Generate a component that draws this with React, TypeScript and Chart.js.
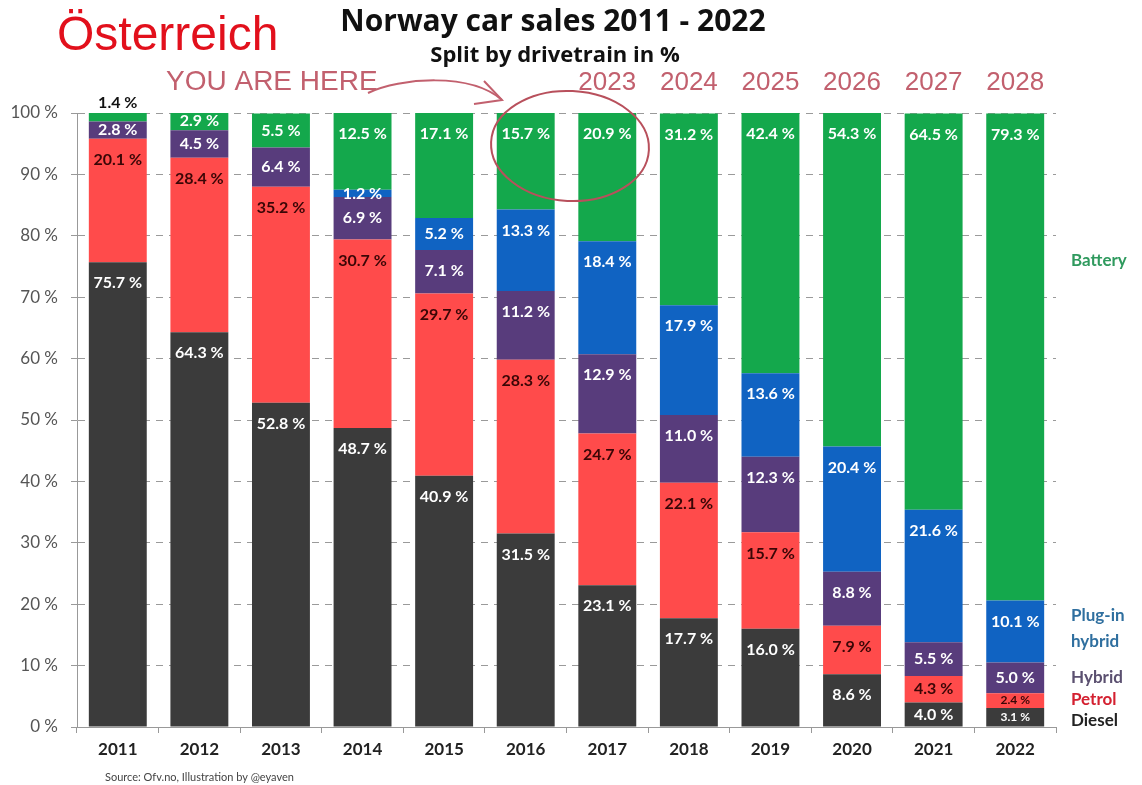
import React, { useEffect, useRef } from "react";
import { Chart, registerables } from "chart.js";

Chart.register(...registerables);

const years = ["2011", "2012", "2013", "2014", "2015", "2016", "2017", "2018", "2019", "2020", "2021", "2022"];
const futureYears = ["2023", "2024", "2025", "2026", "2027", "2028"];
const diesel = [75.7, 64.3, 52.8, 48.7, 40.9, 31.5, 23.1, 17.7, 16.0, 8.6, 4.0, 3.1];
const petrol = [20.1, 28.4, 35.2, 30.7, 29.7, 28.3, 24.7, 22.1, 15.7, 7.9, 4.3, 2.4];
const hybrid = [2.8, 4.5, 6.4, 6.9, 7.1, 11.2, 12.9, 11.0, 12.3, 8.8, 5.5, 5.0];
const plugin = [0, 0, 0, 1.2, 5.2, 13.3, 18.4, 17.9, 13.6, 20.4, 21.6, 10.1];
const battery = [1.4, 2.9, 5.5, 12.5, 17.1, 15.7, 20.9, 31.2, 42.4, 54.3, 64.5, 79.3];
const yTicks = [0, 10, 20, 30, 40, 50, 60, 70, 80, 90, 100];

const seriesNames = ["Diesel", "Petrol", "Hybrid", "Plug-in hybrid", "Battery"];
const seriesColors = ["#3b3b3b", "#ff4b4b", "#583c7c", "#1063c2", "#14a84c"];
const labelColors = ["#ffffff", "#3a0606", "#ffffff", "#ffffff", "#ffffff"];

// right-side legend texts, anchored at a value on the y scale
const legendTexts = [
  { text: "Battery", at: 76, color: "#2f9a5e" },
  { text: "Plug-in", at: 18.1, color: "#2f6f9f" },
  { text: "hybrid", at: 14.0, color: "#2f6f9f" },
  { text: "Hybrid", at: 8.1, color: "#5b5070" },
  { text: "Petrol", at: 4.4, color: "#d42030" },
  { text: "Diesel", at: 1.1, color: "#222222" },
];

const FONT = "Lato, 'Open Sans', sans-serif";
const PINK = "#c2606e";

const overlayPlugin = {
  id: "overlay",
  afterDatasetsDraw(chart: any) {
    const ctx = chart.ctx;
    const n = chart.data.datasets.length;
    const lastIdx = chart.data.labels.length - 1;
    ctx.save();
    ctx.textAlign = "center";
    ctx.textBaseline = "middle";
    for (let d = 0; d < n; d++) {
      const meta = chart.getDatasetMeta(d);
      const data = chart.data.datasets[d].data;
      meta.data.forEach((bar: any, i: number) => {
        const v = data[i];
        if (!v) return;
        const top = Math.min(bar.y, bar.base);
        const h = Math.abs(bar.base - bar.y);
        const txt = v.toFixed(1) + " %";
        let y: number;
        let color = labelColors[d];
        let size = 16;
        if (h < 12 && d === n - 1) {
          y = top - 10;
          color = "#111";
        } else if (h >= 40) {
          y = top + 21;
        } else {
          y = top + h / 2;
        }
        if (h < 21 && i === lastIdx) size = 12;
        ctx.font = `bold ${size}px ${FONT}`;
        ctx.fillStyle = color;
        ctx.fillText(txt, bar.x, y);
      });
    }
    ctx.restore();
  },
  afterDraw(chart: any) {
    const ctx = chart.ctx;
    const yScale = chart.scales.y;
    const xScale = chart.scales.x;
    ctx.save();
    // Title + subtitle
    ctx.textAlign = "center";
    ctx.textBaseline = "middle";
    ctx.fillStyle = "#111";
    ctx.font = `bold 30px 'Open Sans', sans-serif`;
    ctx.fillText("Norway car sales 2011 - 2022", 553, 22);
    ctx.font = `bold 22px 'Open Sans', sans-serif`;
    ctx.fillText("Split by drivetrain in %", 555, 56);

    // Österreich
    ctx.textAlign = "left";
    ctx.textBaseline = "alphabetic";
    ctx.fillStyle = "#e2101c";
    ctx.font = `48px 'Liberation Sans', Arial, sans-serif`;
    ctx.fillText("Österreich", 57, 50);

    // YOU ARE HERE
    ctx.fillStyle = PINK;
    ctx.font = `28px 'Liberation Sans', Arial, sans-serif`;
    ctx.fillText("YOU ARE HERE", 166, 90);

    // future years over last bars
    ctx.textAlign = "center";
    ctx.font = `26px 'Liberation Sans', Arial, sans-serif`;
    futureYears.forEach((fy, k) => {
      const idx = years.length - futureYears.length + k;
      ctx.fillText(fy, xScale.getPixelForValue(idx), 90);
    });

    // arrow
    ctx.strokeStyle = PINK;
    ctx.lineWidth = 2;
    ctx.beginPath();
    ctx.moveTo(368, 93);
    ctx.bezierCurveTo(400, 78, 470, 72, 502, 100);
    ctx.stroke();
    ctx.beginPath();
    ctx.moveTo(484, 81);
    ctx.lineTo(502, 100);
    ctx.lineTo(474, 104);
    ctx.stroke();

    // ellipse
    ctx.strokeStyle = "#b8505c";
    ctx.lineWidth = 2;
    ctx.beginPath();
    ctx.ellipse(570, 146, 79, 55, 0.05, 0, Math.PI * 2);
    ctx.stroke();

    // right legend
    ctx.textAlign = "left";
    ctx.textBaseline = "middle";
    ctx.font = `bold 17px ${FONT}`;
    legendTexts.forEach((l) => {
      ctx.fillStyle = l.color;
      ctx.fillText(l.text, 1071, yScale.getPixelForValue(l.at));
    });

    // source
    ctx.fillStyle = "#444";
    ctx.font = `11px ${FONT}`;
    ctx.fillText("Source: Ofv.no, Illustration by @eyaven", 105, 777);
    ctx.restore();
  },
};

export default function App() {
  const ref = useRef<HTMLCanvasElement>(null);
  useEffect(() => {
    if (!ref.current) return;
    const series = [diesel, petrol, hybrid, plugin, battery];
    const chart = new Chart(ref.current, {
      type: "bar",
      data: {
        labels: years,
        datasets: series.map((s, i) => ({
          label: seriesNames[i],
          data: s,
          backgroundColor: seriesColors[i],
          borderWidth: 0,
          barPercentage: 0.71,
          categoryPercentage: 1,
        })),
      },
      options: {
        responsive: false,
        animation: false,
        layout: { padding: { left: 0, right: 86, top: 113, bottom: 18 } },
        plugins: { legend: { display: false }, tooltip: { enabled: false }, title: { display: false } },
        scales: {
          x: {
            stacked: true,
            afterFit: (s: any) => { s.height = 40; },
            grid: { drawOnChartArea: false, drawTicks: true, tickLength: 6, offset: true, color: "#999" },
            border: { display: true, color: "#999", width: 1 },
            ticks: { color: "#222", font: { family: FONT, size: 17, weight: "bold" }, padding: 6 },
          },
          y: {
            stacked: true,
            min: 0,
            max: 100,
            afterFit: (s: any) => { s.width = 77; },
            afterBuildTicks: (s: any) => { s.ticks = yTicks.map((v) => ({ value: v })); },
            grid: { color: "#9a9a9a", lineWidth: 1, drawTicks: true, tickLength: 6, tickColor: "#999" },
            border: { display: true, color: "#999", width: 1, dash: [7, 6] },
            ticks: {
              color: "#555",
              font: { family: FONT, size: 17 },
              padding: 13,
              callback: (v: any) => v + " %",
            },
          },
        },
      },
      plugins: [overlayPlugin],
    });
    return () => chart.destroy();
  }, []);
  return (
    <canvas
      ref={ref}
      width={1142}
      height={785}
      style={{ position: "absolute", left: 0, top: 0, width: 1142, height: 785, background: "#fff" }}
    />
  );
}
